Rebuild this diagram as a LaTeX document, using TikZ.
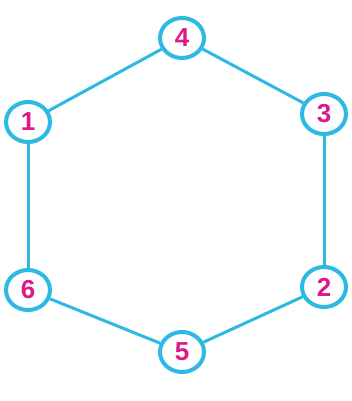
\documentclass[tikz,border=0pt]{standalone}
\usepackage{fontspec}
\setmainfont{Liberation Sans}
\usetikzlibrary{shapes.geometric}
\definecolor{Sky}{RGB}{45,185,225}
\definecolor{Berry}{RGB}{220,25,135}

\begin{document}
\begin{tikzpicture}[x=1pt,y=-1pt,
    vertex/.style={ellipse,draw=Sky,line width=4pt,fill=white,
                   minimum width=44pt,minimum height=40pt,inner sep=0pt,
                   font=\fontsize{26}{26}\selectfont\bfseries,text=Berry},
    edge/.style={Sky,line width=3pt}
]
\useasboundingbox (0,0) rectangle (352,401);

% Vertices
\node[vertex] (n4) at (182,38) {4};
\node[vertex] (n1) at (28,122) {1};
\node[vertex] (n3) at (324,114) {3};
\node[vertex] (n6) at (28,290) {6};
\node[vertex] (n2) at (324,287) {2};
\node[vertex] (n5) at (182,352) {5};

% Edges of the hexagon
\draw[edge] (n4) -- (n1);
\draw[edge] (n1) -- (n6);
\draw[edge] (n6) -- (n5);
\draw[edge] (n5) -- (n2);
\draw[edge] (n2) -- (n3);
\draw[edge] (n3) -- (n4);

\end{tikzpicture}
\end{document}
